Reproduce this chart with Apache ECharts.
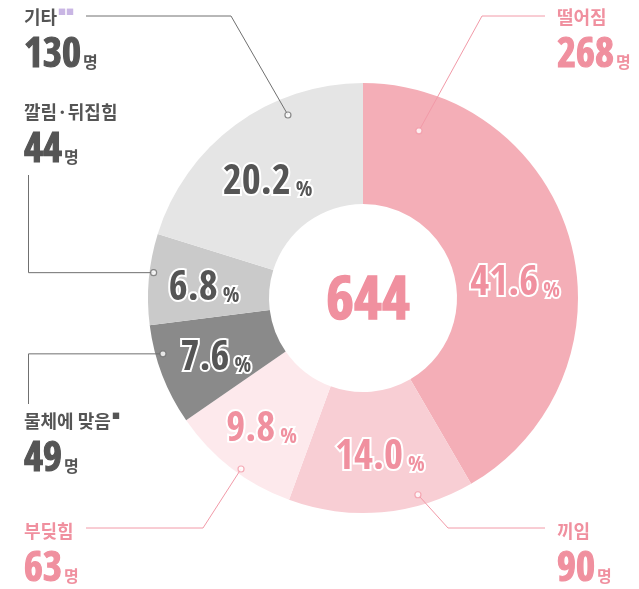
<!DOCTYPE html>
<html>
<head>
<meta charset="utf-8">
<script src="https://cdn.jsdelivr.net/npm/echarts@6/dist/echarts.min.js"></script>
<style>
  html, body { margin: 0; padding: 0; background: #fff; }
  #chart { width: 639px; height: 589px; }
</style>
</head>
<body>
<div id="chart"></div>
<script>
// 데이터
const categories = ['떨어짐', '끼임', '부딪힘', '물체에 맞음', '깔림·뒤집힘', '기타']
const counts = [268, 90, 63, 49, 44, 130]
const footMarks = ['', '', '', '■', '', '■■']
const unitText = '명'

// 스타일
const NUM_FONT = '"Open Sans Condensed", "Roboto Condensed", sans-serif'
const KR_FONT = '"Noto Sans CJK KR", sans-serif'
const PINK = '#F0909F'
const DARK = '#555555'
const sliceColors = ['#F4AEB7', '#F8CED4', '#FDE9EC', '#8A8A8A', '#CACACA', '#E5E5E5']
const textColors = [PINK, PINK, PINK, DARK, DARK, DARK]
const lineColors = ['#F29AA8', '#F29AA8', '#F29AA8', '#707070', '#707070', '#707070']
const markColors = ['', '', '', '#555555', '', '#C9B6E4']

const CX = 363, CY = 298, R_IN = 94, R_OUT = 215

// 퍼센트 라벨 미세 이동
const pctShift = [[0, 27], [3, 3], [-5, 8], [0, 5], [-2, 5], [-2, 12]]

// 바깥 라벨: 점 위치(각도, 반지름 비율), 꺾임점, 끝점, 라벨 좌상단
const anchors = [[18.5, 0.82], [164.4, 0.95], [215.5, 0.977], [254.4, 0.966], [276.9, 0.981], [337.7, 0.92]]
const elbows = [[482, 16], [448, 528], [203, 528], [28.5, null], [28.5, null], [231, 16]]
const lineEnds = [[545, 16], [545, 528], [86, 528], [28.5, 404], [28.5, 175], [86, 16]]
const labelPos = [[557, 2], [557, 516], [24, 516], [24, 406], [24, 97], [24, 2]]

const anchorPixel = ([deg, f]) => {
  const a = deg * Math.PI / 180
  return [CX + R_OUT * f * Math.sin(a), CY - R_OUT * f * Math.cos(a)]
}

const total = counts.reduce((s, v) => s + v, 0)

const pieData = categories.map((name, i) => ({
  name,
  value: counts[i],
  itemStyle: { color: sliceColors[i] },
  label: {
    rich: {
      pct: {
        fontFamily: NUM_FONT, fontWeight: 'bold', fontSize: 41, color: textColors[i],
        textBorderColor: '#fff', textBorderWidth: 4, lineHeight: 46
      },
      unit: {
        fontFamily: NUM_FONT, fontWeight: 'bold', fontSize: 22, color: textColors[i],
        textBorderColor: '#fff', textBorderWidth: 4, padding: [14, 0, 0, 5], lineHeight: 46
      }
    }
  }
}))

const outerData = categories.map((name, i) => ({
  name,
  value: counts[i],
  itemStyle: { color: 'rgba(0,0,0,0)' },
  labelLine: { lineStyle: { color: lineColors[i], width: 1 } },
  label: {
    rich: {
      name: { fontFamily: KR_FONT, fontWeight: 'bold', fontSize: 18, color: textColors[i], lineHeight: 30 },
      mark: { fontFamily: KR_FONT, fontSize: 8, color: markColors[i] || DARK, padding: [0, 0, 10, 1], lineHeight: 30 },
      num: {
        fontFamily: NUM_FONT, fontWeight: 'bold', fontSize: 41, color: textColors[i], lineHeight: 48,
        textBorderColor: textColors[i], textBorderWidth: 1.2
      },
      unit: { fontFamily: KR_FONT, fontWeight: 'bold', fontSize: 16, color: textColors[i], lineHeight: 48, padding: [11, 0, 0, 2] }
    }
  }
}))

const dotData = anchors.map(([deg, f], i) => ({
  value: [f, deg],
  itemStyle: { color: '#fff', borderColor: lineColors[i], borderWidth: 1.2 }
}))

const option = {
  backgroundColor: '#fff',
  animation: false,
  title: {
    text: String(total),
    left: CX,
    top: CY,
    textAlign: 'center',
    textVerticalAlign: 'middle',
    textStyle: {
      fontFamily: NUM_FONT, fontWeight: 'bold', fontSize: 60, color: PINK,
      textBorderColor: PINK, textBorderWidth: 1.5
    }
  },
  polar: { center: [CX, CY], radius: R_OUT },
  angleAxis: { type: 'value', min: 0, max: 360, startAngle: 90, clockwise: true, show: false },
  radiusAxis: { type: 'value', min: 0, max: 1, show: false },
  series: [
    {
      type: 'pie',
      center: [CX, CY],
      radius: [R_IN, R_OUT],
      startAngle: 90,
      clockwise: true,
      silent: true,
      avoidLabelOverlap: false,
      percentPrecision: 1,
      label: {
        show: true,
        position: 'inside',
        formatter: p => `{pct|${p.percent.toFixed(1)}}{unit|%}`
      },
      labelLine: { show: false },
      labelLayout: p => ({ dx: pctShift[p.dataIndex][0], dy: pctShift[p.dataIndex][1] }),
      data: pieData
    },
    {
      type: 'pie',
      center: [CX, CY],
      radius: [R_IN, R_OUT],
      startAngle: 90,
      clockwise: true,
      silent: true,
      avoidLabelOverlap: false,
      z: 3,
      label: {
        show: true,
        position: 'outside',
        formatter: p => {
          const m = footMarks[p.dataIndex]
          return `{name|${p.name}}` + (m ? `{mark|${m}}` : '') + `\n{num|${p.value}}{unit|${unitText}}`
        }
      },
      labelLine: { show: true },
      labelLayout: p => {
        const i = p.dataIndex
        const start = anchorPixel(anchors[i])
        const elbow = [elbows[i][0], elbows[i][1] == null ? start[1] : elbows[i][1]]
        return {
          x: labelPos[i][0],
          y: labelPos[i][1],
          align: 'left',
          verticalAlign: 'top',
          labelLinePoints: [start, elbow, lineEnds[i]]
        }
      },
      data: outerData
    },
    {
      type: 'scatter',
      coordinateSystem: 'polar',
      symbol: 'circle',
      symbolSize: 6,
      silent: true,
      z: 10,
      data: dotData
    }
  ]
}

const chart = echarts.init(document.getElementById('chart'))
chart.setOption(option)
</script>
</body>
</html>
